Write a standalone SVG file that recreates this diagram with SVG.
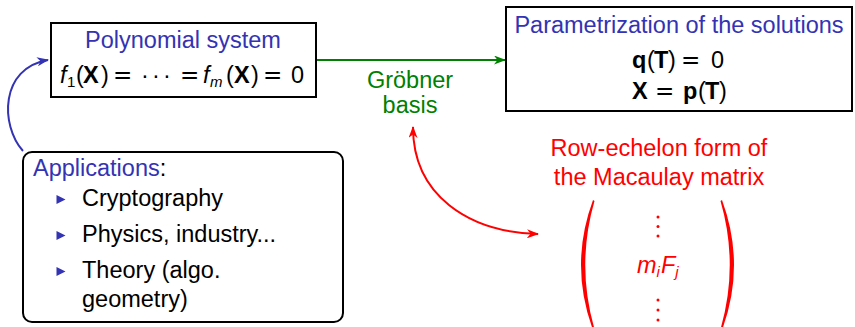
<svg xmlns="http://www.w3.org/2000/svg" width="855" height="327" viewBox="0 0 855 327">
<style>
text{font-family:"Liberation Sans",Arial,sans-serif;font-size:23.5px}
.blue{fill:#3333b3}
.blk{fill:#000}
.green{fill:#008000}
.red{fill:#ff0000}
.box{fill:#fff;stroke:#000;stroke-width:2}
.it{font-style:italic}
.bf{font-weight:bold}
.sub{font-size:15px}
.eq{font-family:"DejaVu Sans",sans-serif;font-size:23px}
</style>
<defs>
<marker id="ab" viewBox="0 0 12 9" refX="11" refY="4.5" markerWidth="12" markerHeight="9" markerUnits="userSpaceOnUse" orient="auto-start-reverse"><path d="M0,0 L12,4.5 L0,9 L3.5,4.5 z" fill="#3333b3"/></marker>
<marker id="ag" viewBox="0 0 12 9" refX="11" refY="4.5" markerWidth="12" markerHeight="9" markerUnits="userSpaceOnUse" orient="auto-start-reverse"><path d="M0,0 L12,4.5 L0,9 L3.5,4.5 z" fill="#008000"/></marker>
<marker id="ar" viewBox="0 0 12 9" refX="11" refY="4.5" markerWidth="12" markerHeight="9" markerUnits="userSpaceOnUse" orient="auto-start-reverse"><path d="M0,0 L12,4.5 L0,9 L3.5,4.5 z" fill="#ff0000"/></marker>
</defs>

<g id="connectors" fill="none" stroke-width="2">
<path d="M23 151 C0 125 0 68 48 60" stroke="#3333b3" marker-end="url(#ab)"/>
<path d="M316 60 L505 60" stroke="#008000" marker-end="url(#ag)"/>
<path d="M413 127 C413 195 468 232 538 234" stroke="#ff0000" marker-start="url(#ar)" marker-end="url(#ar)"/>
</g>

<g id="polynomial-system">
<rect class="box" x="51" y="23" width="265" height="74"/>
<text class="blue" x="183" y="48" text-anchor="middle">Polynomial system</text>
<text class="blk" y="83"><tspan class="it" x="60">f</tspan><tspan class="sub" x="67" dy="4">1</tspan><tspan x="76" dy="-4">(</tspan><tspan class="bf" x="83">X</tspan><tspan x="101">)</tspan><tspan class="eq" x="113">=</tspan><tspan x="141">·</tspan><tspan x="152">·</tspan><tspan x="163">·</tspan><tspan class="eq" x="180">=</tspan><tspan class="it" x="203">f</tspan><tspan class="it sub" x="210" dy="4">m</tspan><tspan x="226" dy="-4">(</tspan><tspan class="bf" x="234">X</tspan><tspan x="251">)</tspan><tspan class="eq" x="263">=</tspan><tspan x="291">0</tspan></text>
</g>

<g id="groebner-label">
<text class="green" x="410" y="88" text-anchor="middle">Gröbner</text>
<text class="green" x="410" y="113" text-anchor="middle">basis</text>
</g>

<g id="parametrization">
<rect class="box" x="506" y="7" width="346" height="104"/>
<text class="blue" x="679" y="33" text-anchor="middle">Parametrization of the solutions</text>
<text class="blk" y="68"><tspan class="bf" x="632">q</tspan><tspan x="647">(</tspan><tspan class="bf" x="654">T</tspan><tspan x="668">)</tspan><tspan class="eq" x="681">=</tspan><tspan x="711">0</tspan></text>
<text class="blk" y="99"><tspan class="bf" x="632">X</tspan><tspan class="eq" x="655">=</tspan><tspan class="bf" x="683">p</tspan><tspan x="698">(</tspan><tspan class="bf" x="705">T</tspan><tspan x="719">)</tspan></text>
</g>

<g id="applications">
<rect x="23" y="152" width="320" height="170" rx="9" ry="9" fill="#fff" stroke="#000" stroke-width="2"/>
<text x="33" y="176"><tspan class="blue">Applications</tspan><tspan class="blk">:</tspan></text>
<path d="M56.5 195 L65.5 199.5 L56.5 204 Z" fill="#3333b3"/>
<text class="blk" x="82" y="206">Cryptography</text>
<path d="M56.5 231 L65.5 235.5 L56.5 240 Z" fill="#3333b3"/>
<text class="blk" x="82" y="242">Physics, industry...</text>
<path d="M56.5 267 L65.5 271.5 L56.5 276 Z" fill="#3333b3"/>
<text class="blk" x="82" y="278">Theory (algo.</text>
<text class="blk" x="82" y="307">geometry)</text>
</g>

<g id="macaulay">
<text class="red" x="659" y="156" text-anchor="middle">Row-echelon form of</text>
<text class="red" x="659" y="185" text-anchor="middle">the Macaulay matrix</text>
<path d="M593 200 Q569 265 593 330 L594.5 329 Q576 265 594.5 201 Z" fill="#ff0000"/>
<path d="M722 200 Q746 265 722 330 L720.5 329 Q739 265 720.5 201 Z" fill="#ff0000"/>
<g fill="#ff0000">
<circle cx="658" cy="217" r="1.5"/><circle cx="658" cy="226.5" r="1.5"/><circle cx="658" cy="236" r="1.5"/>
<circle cx="658" cy="300" r="1.5"/><circle cx="658" cy="310" r="1.5"/><circle cx="658" cy="320" r="1.5"/>
</g>
<text class="red it" x="637" y="273">m<tspan class="sub" dy="4">i</tspan><tspan dx="1" dy="-4">F</tspan><tspan class="sub" dy="4">j</tspan></text>
</g>
</svg>
